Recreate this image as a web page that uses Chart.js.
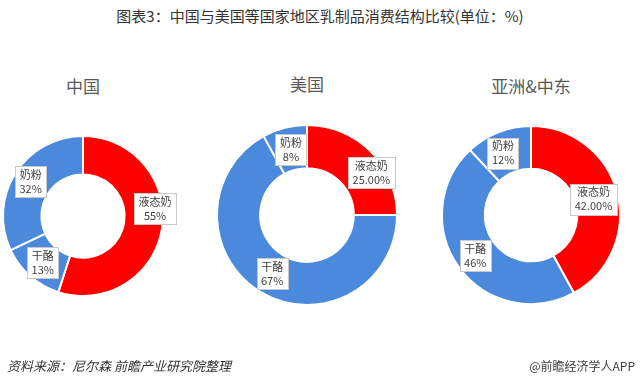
<!DOCTYPE html>
<html>
<head>
<meta charset="utf-8">
<script src="https://cdn.jsdelivr.net/npm/chart.js@4"></script>
<style>
  body { margin: 0; width: 640px; height: 386px; background: #fff; overflow: hidden; position: relative;
         font-family: "Noto Sans CJK SC", "Noto Sans", sans-serif; }
  canvas { position: absolute; left: 0; top: 0; }
  .txt { position: absolute; white-space: nowrap; }
  #title { left: 0; width: 640px; top: 5px; text-align: center; font-size: 15px; color: #333; }
  .sub { font-size: 17px; color: #595959; transform: translateX(-50%); }
  #src { left: 7px; top: 356px; font-size: 13px; font-style: italic; color: #333; }
  #brand { right: 5px; top: 357px; font-size: 12px; color: #404040; }
</style>
</head>
<body>
<div class="txt" id="title">图表3：中国与美国等国家地区乳制品消费结构比较(单位：%)</div>
<div class="txt sub" style="left:83px;top:73px">中国</div>
<div class="txt sub" style="left:307px;top:71px">美国</div>
<div class="txt sub" style="left:531px;top:73px">亚洲&amp;中东</div>
<canvas id="cn" width="640" height="386"></canvas>
<canvas id="us" width="640" height="386"></canvas>
<canvas id="as" width="640" height="386"></canvas>
<div class="txt" id="src">资料来源：尼尔森 前瞻产业研究院整理</div>
<div class="txt" id="brand">@前瞻经济学人APP</div>
<script>
const categories = ['液态奶', '干酪', '奶粉'];
const chinaValues = [55, 13, 32];
const usaValues = [25, 67, 8];
const asiaValues = [42, 46, 12];
// decimals shown in each slice label
const chinaDecimals = [0, 0, 0];
const usaDecimals = [2, 0, 0];
const asiaDecimals = [2, 0, 0];

const colors = ['#ff0000', '#4a89dc', '#4a89dc'];

const boxLabels = {
    id: 'boxLabels',
    afterDatasetsDraw(chart, args, opts) {
        const ctx = chart.ctx;
        const meta = chart.getDatasetMeta(0);
        const values = chart.data.datasets[0].data;
        ctx.save();
        ctx.font = '11px "Noto Sans CJK SC", sans-serif';
        ctx.textAlign = 'center';
        ctx.textBaseline = 'middle';
        meta.data.forEach((arc, i) => {
            const p = arc.tooltipPosition();
            const off = opts.offsets[i] || [0, 0];
            const x = p.x + off[0], y = p.y + off[1];
            const l1 = chart.data.labels[i];
            const l2 = values[i].toFixed(opts.decimals[i]) + '%';
            const w = Math.max(ctx.measureText(l1).width, ctx.measureText(l2).width) + 9;
            const h = 31;
            ctx.fillStyle = '#fff';
            ctx.fillRect(Math.round(x - w / 2) + 0.5, Math.round(y - h / 2) + 0.5, Math.round(w), h);
            ctx.strokeStyle = '#c8c8c8';
            ctx.lineWidth = 1;
            ctx.strokeRect(Math.round(x - w / 2) + 0.5, Math.round(y - h / 2) + 0.5, Math.round(w), h);
            ctx.fillStyle = '#404040';
            ctx.fillText(l1, x, y - 7);
            ctx.fillText(l2, x, y + 7);
        });
        ctx.restore();
    }
};

function makeDonut(id, values, decimals, padding, offsets) {
    return new Chart(document.getElementById(id), {
        type: 'doughnut',
        data: {
            labels: categories,
            datasets: [{
                data: values,
                backgroundColor: colors,
                borderColor: '#fff',
                borderWidth: 2,
            }],
        },
        options: {
            responsive: false,
            animation: false,
            cutout: '52%',
            layout: { padding: padding },
            plugins: {
                legend: { display: false },
                tooltip: { enabled: false },
                boxLabels: { decimals: decimals, offsets: offsets },
            },
        },
        plugins: [boxLabels],
    });
}

makeDonut('cn', chinaValues, chinaDecimals,
    { left: 2, top: 135, right: 476, bottom: 89 },
    [[12, -17], [0, 1], [-1, -2]]);
makeDonut('us', usaValues, usaDecimals,
    { left: 216, top: 124, right: 242, bottom: 80 },
    [[16, 6], [0, 0], [1, 1]]);
makeDonut('as', asiaValues, asiaDecimals,
    { left: 441, top: 125, right: 19, bottom: 81 },
    [[-3, 1], [-1, 1], [-3, 1]]);
</script>
</body>
</html>
